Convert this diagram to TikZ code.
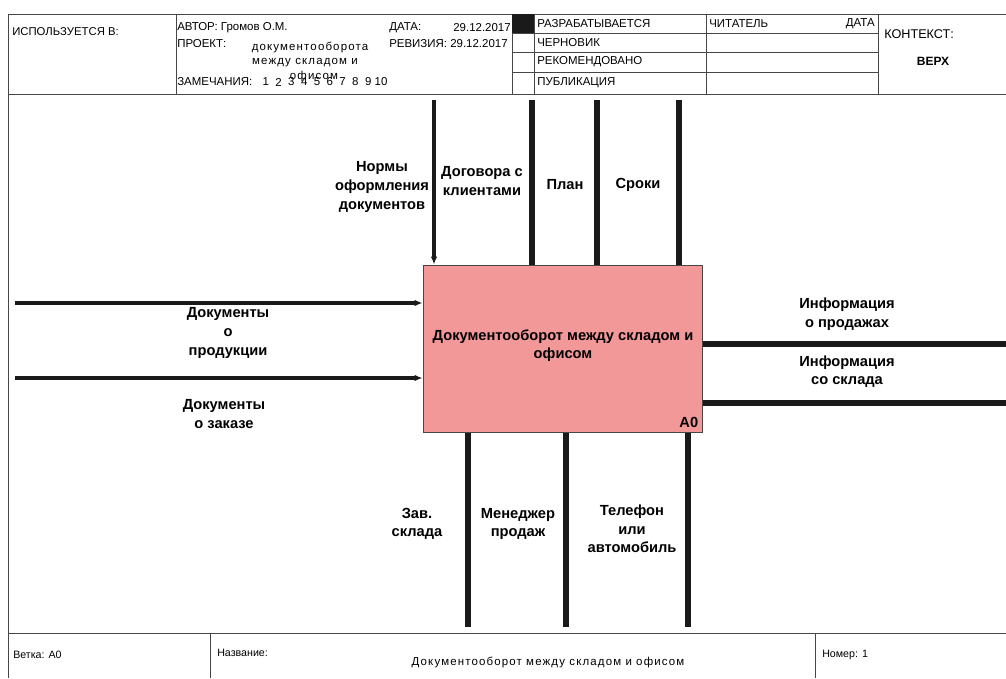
\documentclass[tikz,border=0pt]{standalone}
\usepackage{fontspec}
\setmainfont{Liberation Sans}
\usetikzlibrary{arrows.meta}
\definecolor{funcpink}{RGB}{243,152,153}
\definecolor{framegray}{RGB}{70,70,70}
\definecolor{flowblack}{RGB}{26,26,26}
\tikzset{
  frameline/.style={draw=framegray, line width=0.75pt},
  hdr/.style={inner sep=0pt, anchor=west, font=\fontsize{8.6}{10}\selectfont},
  spaced/.style={font=\fontsize{8.6}{10}\selectfont\addfontfeatures{LetterSpace=10}},
  flow/.style={draw=flowblack, line width=4pt},
  flowin/.style={draw=flowblack, line width=3pt, -{Latex[length=6pt,width=5pt]}},
  arrlbl/.style={inner sep=0pt, align=center, font=\fontsize{11}{14}\selectfont\bfseries},
  funcbox/.style={draw=framegray, line width=0.75pt, fill=funcpink, minimum width=209.25pt,
    minimum height=125.25pt, inner sep=0pt},
}
\begin{document}
\begin{tikzpicture}[x=0.75pt,y=0.75pt,yscale=-1,xscale=1]
	\useasboundingbox (0,0) rectangle (1006,678);

	%Frame and header lines
	\draw [frameline] (1006,14) -- (8,14) -- (8,678) ;
	\draw [frameline] (8,94) -- (1006,94) ;
	\draw [frameline] (176,14) -- (176,94) (512,14) -- (512,94) (534,14) -- (534,94) (706,14) -- (706,94) (878,14) -- (878,94) ;
	\draw [frameline] (512,33) -- (878,33) (512,52) -- (878,52) (512,72) -- (878,72) ;
	\fill [flowblack] (512,14) rectangle (534,33) ;
	%Footer lines
	\draw [frameline] (8,633) -- (1006,633) (210,633) -- (210,678) (815,633) -- (815,678) ;

	% Header Text
	\node [hdr, font=\fontsize{8.5}{10}\selectfont] (usedin) at (12,32) {ИСПОЛЬЗУЕТСЯ В:};
	\node [hdr] (author) at (177,28) {АВТОР: Громов О.М.};
	\node [hdr] (date) at (389,28) {ДАТА:};
	\node [hdr, anchor=east] (dateval) at (511,28) {29.12.2017};
	\node [hdr] (project) at (177,44) {ПРОЕКТ:};
	\node [hdr, spaced, anchor=center] (projname1) at (310,47) {документооборота};
	\node [hdr, spaced, anchor=center] (projname2) at (305,63) {между складом и};
	\node [hdr, spaced, anchor=center] (projname3) at (314,77) {офисом};
	\node [hdr] (revision) at (389,44) {РЕВИЗИЯ: 29.12.2017};
	\node [hdr] (notes) at (177,82) {ЗАМЕЧАНИЯ:};
	\foreach \n in {1,...,10}
		\node [hdr, anchor=center] (num\n) at ({253+\n*12.8},82) {\n};
	\node [hdr] (status1) at (537,24) {РАЗРАБАТЫВАЕТСЯ};
	\node [hdr] (status2) at (537,43) {ЧЕРНОВИК};
	\node [hdr] (status3) at (537,62) {РЕКОМЕНДОВАНО};
	\node [hdr] (status4) at (537,83) {ПУБЛИКАЦИЯ};
	\node [hdr] (reader) at (709,24) {ЧИТАТЕЛЬ};
	\node [hdr, anchor=east] (readerdate) at (875,24) {ДАТА};
	\node [hdr, font=\fontsize{9.5}{11}\selectfont] (context) at (884,34) {КОНТЕКСТ:};
	\node [hdr, anchor=center, font=\fontsize{9}{11}\selectfont\bfseries] (top) at (933,61) {ВЕРХ};

	% Footer Text
	\node [hdr, font=\fontsize{8}{9}\selectfont] (branch) at (13,655) {Ветка: А0};
	\node [hdr, font=\fontsize{8}{9}\selectfont] (title) at (217,653) {Название:};
	\node [hdr, spaced, anchor=center] (titletext) at (548,662) {Документооборот между складом и офисом};
	\node [hdr, font=\fontsize{8}{9}\selectfont] (number) at (822,655) {Номер: 1};

	% Function Box
	\node [funcbox] (func) at (562.5,348.5) {};
	\node [arrlbl] (functext) at (563,345.5) {Документооборот между складом и\\офисом};
	\node [arrlbl, anchor=south east] (funcnum) at ([xshift=-3pt,yshift=-3.5pt]func.south east) {A0};

	%Controls
	\coordinate (t1) at (434,100);
	\coordinate (t2) at (532,100);
	\coordinate (t3) at (597,100);
	\coordinate (t4) at (679,100);
	\draw [flowin] (t1) -- (t1 |- func.north) ;
	\foreach \c in {t2,t3,t4}
		\draw [flow] (\c) -- (\c |- func.north) ;
	%Inputs
	\coordinate (l1) at (15,303);
	\coordinate (l2) at (15,378);
	\draw [flowin] (l1) -- (l1 -| func.west) ;
	\draw [flowin] (l2) -- (l2 -| func.west) ;
	%Outputs
	\coordinate (r1) at (1006,344);
	\coordinate (r2) at (1006,403);
	\draw [flow] (func.east |- r1) -- (r1) ;
	\draw [flow] (func.east |- r2) -- (r2) ;
	%Mechanisms
	\coordinate (b1) at (468,627);
	\coordinate (b2) at (566,627);
	\coordinate (b3) at (688,627);
	\foreach \c in {b1,b2,b3}
		\draw [flow, line width=4.5pt] (func.south -| \c) -- (\c) ;

	% Text Node
	\node [arrlbl] (lblnorm) at (382,187) {Нормы\\оформления\\документов};
	\node [arrlbl] (lbldog) at (482,181) {Договора с\\клиентами};
	\node [arrlbl] (lblplan) at (565,185) {План};
	\node [arrlbl] (lblsrok) at (638,185) {Сроки};
	\node [arrlbl] (lblprod) at (228,333) {Документы\\о\\продукции};
	\node [arrlbl] (lblzak) at (224,414) {Документы\\о заказе};
	\node [arrlbl] (lblsale) at (847,314) {Информация\\о продажах};
	\node [arrlbl] (lblstore) at (847,371.5) {Информация\\со склада};
	\node [arrlbl] (lblzav) at (417,524) {Зав.\\склада};
	\node [arrlbl] (lblman) at (518,524) {Менеджер\\продаж};
	\node [arrlbl] (lbltel) at (632,529) {Телефон\\или\\автомобиль};

\end{tikzpicture}
\end{document}
